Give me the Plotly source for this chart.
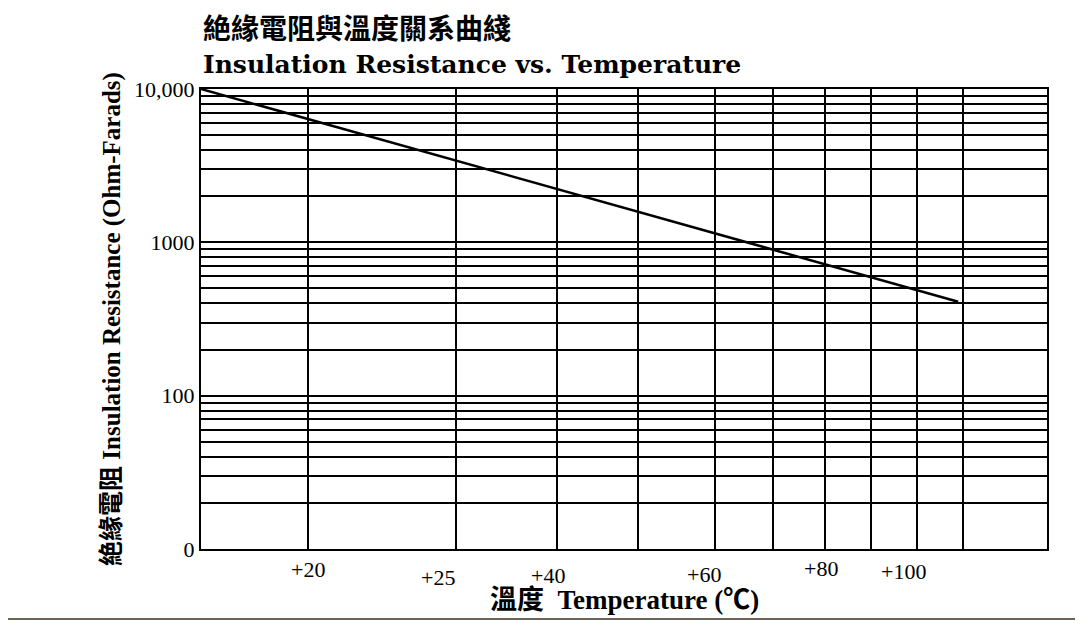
import plotly.graph_objects as go

# x positions in chart units (0-100 across the grid)
grid_x = [12.7, 30.2, 42.1, 51.7, 60.7, 67.6, 73.8, 79.2, 84.6, 90.1]
temp_labels = ['+20', '+25', '+40', '+60', '+80', '+100']
temp_label_x = [12.6, 28.0, 41.0, 59.5, 73.3, 83.0]
temp_label_dy = [0, 8, 6, 5, -1, 2]

# insulation resistance line (Ohm-Farads)
line_x = [0, 89.5]
line_y = [10000, 410]

grid_y = [m * 10 ** d for d in range(1, 4) for m in range(1, 10)] + [10000]
y_labels = {10: '0', 100: '100', 1000: '1000', 10000: '10,000'}

fig = go.Figure()
fig.add_trace(go.Scatter(x=line_x, y=line_y, mode='lines',
                         line=dict(color='black', width=2.5), showlegend=False))

fig.update_xaxes(range=[0, 100], tickvals=grid_x, showticklabels=False, ticks='',
                 showgrid=True, gridcolor='black', gridwidth=1.5, zeroline=False,
                 showline=True, linecolor='black', linewidth=2, mirror=True)
fig.update_yaxes(type='log', range=[1, 4], tickvals=grid_y,
                 ticktext=[y_labels.get(v, '') for v in grid_y], ticks='',
                 showgrid=True, gridcolor='black', gridwidth=2, zeroline=False,
                 showline=True, linecolor='black', linewidth=2, mirror=True,
                 tickfont=dict(family='Liberation Serif', size=22, color='black'),
                 title=dict(text='<b>絶緣電阻 Insulation Resistance (Ohm-Farads)</b>',
                            font=dict(family='Liberation Serif, Noto Sans CJK TC', size=25, color='black'),
                            standoff=6))

for lab, x, dy in zip(temp_labels, temp_label_x, temp_label_dy):
    fig.add_annotation(x=x, y=0, xref='x', yref='paper', text=lab, showarrow=False,
                       yanchor='top', yshift=-6 - dy,
                       font=dict(family='Liberation Serif', size=22, color='black'))

fig.add_annotation(x=0.5, y=0, xref='paper', yref='paper', yanchor='top', yshift=-34,
                   text='<b>溫度  Temperature (℃)</b>', showarrow=False,
                   font=dict(family='Liberation Serif, Noto Sans CJK TC', size=27, color='black'))
fig.add_annotation(x=0, y=1, xref='paper', yref='paper', xanchor='left', yanchor='bottom',
                   yshift=40, text='<b>絶緣電阻與溫度關系曲綫</b>', showarrow=False,
                   font=dict(family='Noto Sans CJK TC', size=28, color='black'))
fig.add_annotation(x=0, y=1, xref='paper', yref='paper', xanchor='left', yanchor='bottom',
                   yshift=8, text='<b>Insulation Resistance vs. Temperature</b>', showarrow=False,
                   font=dict(family='DejaVu Serif', size=25, color='black'))

fig.add_shape(type='line', xref='paper', yref='paper', x0=-0.24, x1=1.05, y0=-0.152, y1=-0.152,
              line=dict(color='#6b6258', width=2))

fig.update_layout(width=1083, height=626, margin=dict(l=193, r=44, t=81, b=85),
                  plot_bgcolor='white', paper_bgcolor='white')

fig.write_html('out.html')
